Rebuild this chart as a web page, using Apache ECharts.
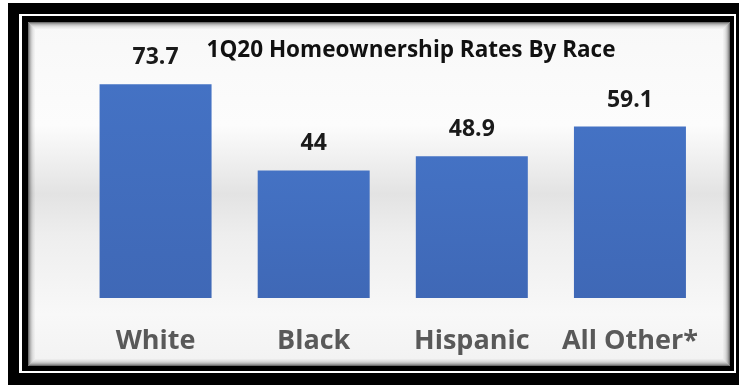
<!DOCTYPE html>
<html>
<head>
<meta charset="utf-8">
<script src="https://cdn.jsdelivr.net/npm/echarts@6/dist/echarts.min.js"></script>
<style>
html,body{margin:0;padding:0;background:#fff;}
#c{width:739px;height:385px;}
</style>
</head>
<body>
<div id="c"></div>
<script>
const categories = ['White', 'Black', 'Hispanic', 'All Other*'];
const values = [73.7, 44, 48.9, 59.1];
const titleText = '1Q20 Homeownership Rates By Race';

const chart = echarts.init(document.getElementById('c'), null, {renderer: 'canvas'});

const shadowRects = [];
const alphas = [0.55, 0.38, 0.26, 0.17, 0.1, 0.06, 0.03];
alphas.forEach((a, i) => {
  shadowRects.push({
    type: 'rect', silent: true, z: -5,
    shape: {x: 28.5 + i, y: 22.5 + i, width: 701 - 2 * i, height: 343 - 2 * i},
    style: {fill: null, stroke: 'rgba(0,0,0,' + a + ')', lineWidth: 1}
  });
});

chart.setOption({
  animation: false,
  backgroundColor: '#ffffff',
  graphic: [
    {type: 'rect', silent: true, z: -10, shape: {x: 8, y: 3, width: 740, height: 390}, style: {fill: '#000'}},
    {type: 'rect', silent: true, z: -9, shape: {x: 19, y: 14, width: 717, height: 359}, style: {fill: '#fff'}},
    {type: 'rect', silent: true, z: -8, shape: {x: 22, y: 16, width: 712, height: 355}, style: {fill: '#000'}},
    {type: 'rect', silent: true, z: -7, shape: {x: 28, y: 22, width: 702, height: 344},
      style: {fill: new echarts.graphic.LinearGradient(0, 0, 0, 1, [
        {offset: 0, color: '#f8f8f8'},
        {offset: 0.3, color: '#fcfcfc'},
        {offset: 0.5, color: '#e3e3e3'},
        {offset: 0.62, color: '#eeeeee'},
        {offset: 0.85, color: '#f8f8f8'},
        {offset: 1, color: '#f2f2f2'}
      ])}},
    ...shadowRects
  ],
  title: {
    text: titleText,
    left: 406,
    top: 34,
    textAlign: 'center',
    textStyle: {fontFamily: 'Open Sans', fontWeight: 'bold', fontSize: 22.5, color: '#111'}
  },
  grid: {left: 76.5, right: 30, top: 66, bottom: 87},
  xAxis: {
    type: 'category',
    data: categories,
    axisLine: {show: false},
    axisTick: {show: false},
    axisLabel: {
      interval: 0,
      hideOverlap: false,
      margin: 30,
      fontFamily: 'Open Sans', fontWeight: 'bold', fontSize: 27, color: '#595959'
    }
  },
  yAxis: {
    type: 'value', min: 0, max: 80, show: false,
    splitLine: {show: false}
  },
  series: [{
    type: 'bar',
    data: values,
    barWidth: 112,
    itemStyle: {
      color: new echarts.graphic.LinearGradient(0, 0, 0, 1, [
        {offset: 0, color: '#4472c4'},
        {offset: 1, color: '#3f68b6'}
      ])
    },
    label: {
      show: true, position: 'top', distance: 15,
      fontFamily: 'Open Sans', fontWeight: 'bold', fontSize: 23, color: '#1a1a1a'
    }
  }]
});
</script>
</body>
</html>
